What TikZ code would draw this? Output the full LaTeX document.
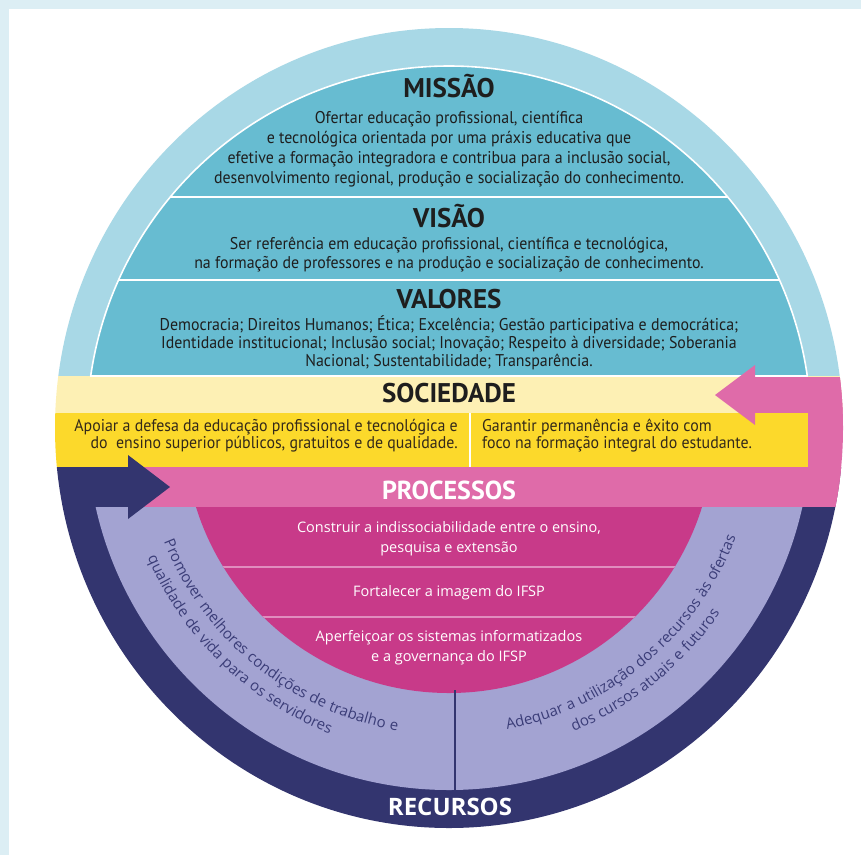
\documentclass[tikz,border=0pt]{standalone}
\usepackage{fontspec}
\setmainfont{PT Sans}
\newfontfamily\condfont[FakeStretch=0.935]{PT Sans}
\newfontfamily\titlefont[FakeStretch=1.0]{PT Sans}
\newfontfamily\curvefont{Open Sans}
\newfontfamily\curvespaced[LetterSpace=4]{Open Sans}
\usetikzlibrary{decorations.text,calc}
\definecolor{bgstrip}{HTML}{DCEEF4}
\definecolor{ringblue}{HTML}{A8D8E6}
\definecolor{dometeal}{HTML}{67BCD1}
\definecolor{lightyel}{HTML}{FDF0B4}
\definecolor{yel}{HTML}{FCD92B}
\definecolor{pinkband}{HTML}{DF6BA9}
\definecolor{bowlmag}{HTML}{C83A89}
\definecolor{sepline}{HTML}{E08DBE}
\definecolor{lav}{HTML}{A3A3D2}
\definecolor{navy}{HTML}{33356F}
\definecolor{curvetxt}{HTML}{3B3D78}
\definecolor{darktxt}{HTML}{1E1E1E}
\definecolor{yeltxt}{HTML}{33291A}
\newcommand\cvf{\curvespaced\fontsize{15}{18}\selectfont}
\begin{document}
\begin{tikzpicture}[x=1pt,y=1pt,
  title/.style={inner sep=0pt, anchor=base, text=darktxt, font=\titlefont\bfseries\fontsize{27}{30}\selectfont},
  body/.style={inner sep=0pt, align=center, text=darktxt, font=\condfont\fontsize{17}{20}\selectfont},
  soctext/.style={inner sep=0pt, text=yeltxt, font=\condfont\fontsize{17}{17}\selectfont},
  low/.style={inner sep=0pt, align=center, text=white, font=\curvefont\fontsize{14.5}{20}\selectfont},
  rec/.style={inner sep=0pt, anchor=base, text=white, font=\curvefont\bfseries\fontsize{24}{26}\selectfont},
  curved/.style={decorate, decoration={text along path, text align=center, text color=curvetxt}}]
\useasboundingbox (0,0) rectangle (861,-855);
\fill[bgstrip] (0,0) rectangle (861,-855);
\fill[white] (9,-9) rectangle (861,-855);
\coordinate (O) at (449,-428);
\begin{scope}
  \clip (O) ellipse [x radius=394, y radius=400];
  \fill[ringblue] (0,0) rectangle (861,-376);
  \begin{scope}
    \clip (0,0) rectangle (861,-376);
    \fill[dometeal] (O) circle[radius=362];
    \draw[white, line width=1.6] (O) circle[radius=362];
    \clip (O) circle[radius=362];
    \draw[white, line width=1.6] (40,-197) -- (860,-197);
    \draw[white, line width=1.6] (40,-280) -- (860,-280);
  \end{scope}
  \fill[lightyel] (0,-376) rectangle (861,-413);
  \draw[white, line width=1.4] (90,-376) -- (808,-376);
  \fill[yel] (0,-413) rectangle (808,-467);
  \draw[white, line width=2] (470,-413) -- (470,-467);
  \fill[navy] (0,-467) rectangle (861,-860);
  \begin{scope}
    \clip (0,-507) rectangle (861,-860);
    \fill[lav] (O) circle[radius=362];
    \fill[bowlmag] (O) circle[radius=265];
    \clip (O) circle[radius=265];
    \draw[sepline, line width=1.5] (150,-567) -- (750,-567);
    \draw[sepline, line width=1.5] (150,-617) -- (750,-617);
  \end{scope}
  \fill[pinkband] (128,-467) rectangle (861,-507);
  \fill[navy] (128,-455) -- (170,-487) -- (128,-519) -- cycle;
  \fill[pinkband] (808,-377) rectangle (861,-507);
  \fill[pinkband] (755,-377) rectangle (861,-413);
  \fill[pinkband] (755,-365) -- (715,-395) -- (755,-425) -- cycle;
  \draw[navy, line width=2.2] (455,-690) -- (455,-795);
\end{scope}
% texts
\node[title] (missaoT) at (449,-97) {MISSÃO};
\node[body] (missaoB) at (449,-149) {Ofertar educação profissional, científica\\e tecnológica orientada por uma práxis educativa que\\efetive a formação integradora e contribua para a inclusão social,\\desenvolvimento regional, produção e socialização do conhecimento.};
\node[title] (visaoT) at (449,-227) {VISÃO};
\node[body, font=\condfont\fontsize{17}{19}\selectfont] (visaoB) at (449,-255) {Ser referência em educação profissional, científica e tecnológica,\\na formação de professores e na produção e socialização de conhecimento.};
\node[title] (valoresT) at (449,-308) {VALORES};
\node[body, font=\condfont\fontsize{17}{18}\selectfont] (valoresB) at (449,-343) {Democracia; Direitos Humanos; Ética; Excelência; Gestão participativa e democrática;\\Identidade institucional; Inclusão social; Inovação; Respeito à diversidade; Soberania\\Nacional; Sustentabilidade; Transparência.};
\node[title] (socT) at (449,-402) {SOCIEDADE};
\node[soctext, align=right, anchor=east] (socL) at (458,-436) {Apoiar a defesa da educação profissional e tecnológica e\\do~ ensino superior públicos, gratuitos e de qualidade.};
\node[soctext, align=left, anchor=west] (socR) at (482,-436) {Garantir permanência e êxito com\\foco na formação integral do estudante.};
\node[title, text=white, font=\titlefont\bfseries\fontsize{26}{30}\selectfont] (procT) at (449,-499) {PROCESSOS};
\node[low] (p1) at (449,-539) {Construir a indissociabilidade entre o ensino,\\pesquisa e extensão};
\node[low] (p2) at (449,-593) {Fortalecer a imagem do IFSP};
\node[low] (p3) at (449,-648) {Aperfeiçoar os sistemas informatizados\\e a governança do IFSP};
\node[rec] (recT) at (450,-815) {RECURSOS};
% curved texts
\path[curved, decoration={text={|\cvf|Promover melhores condições de trabalho e}}]
  (O) ++(186:307) arc[start angle=186, end angle=276, radius=307];
\path[curved, decoration={text={|\cvf|qualidade de vida para os servidores}}]
  (O) ++(181:328) arc[start angle=181, end angle=271, radius=328];
\path[curved, decoration={text={|\cvf|Adequar a utilização dos recursos às ofertas}}]
  (O) ++(-95:307) arc[start angle=-95, end angle=-5, radius=307];
\path[curved, decoration={text={|\cvf|dos cursos atuais e futuros}}]
  (O) ++(-96:328) arc[start angle=-96, end angle=-6, radius=328];
\end{tikzpicture}
\end{document}
